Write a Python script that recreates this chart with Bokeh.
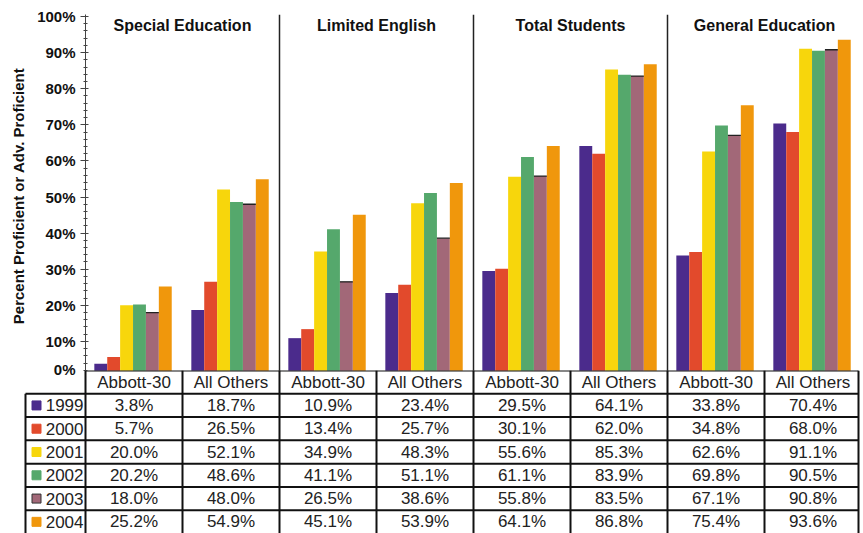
from bokeh.plotting import figure
from bokeh.models import Range1d, SingleIntervalTicker, PrintfTickFormatter, ColumnDataSource
from bokeh.layouts import column
from bokeh.core.properties import value
from bokeh.embed import file_html
from bokeh.resources import INLINE

# ---- data ----
years = ["1999", "2000", "2001", "2002", "2003", "2004"]
panels = ["Special Education", "Limited English", "Total Students", "General Education"]
groups = ["Abbott-30", "All Others"]

special_abbott = [3.8, 5.7, 20.0, 20.2, 18.0, 25.2]
special_others = [18.7, 26.5, 52.1, 48.6, 48.0, 54.9]
lep_abbott = [10.9, 13.4, 34.9, 41.1, 26.5, 45.1]
lep_others = [23.4, 25.7, 48.3, 51.1, 38.6, 53.9]
total_abbott = [29.5, 30.1, 55.6, 61.1, 55.8, 64.1]
total_others = [64.1, 62.0, 85.3, 83.9, 83.5, 86.8]
gen_abbott = [33.8, 34.8, 62.6, 69.8, 67.1, 75.4]
gen_others = [70.4, 68.0, 91.1, 90.5, 90.8, 93.6]

series = [special_abbott, special_others, lep_abbott, lep_others,
          total_abbott, total_others, gen_abbott, gen_others]

colors = ["#4b2b8c", "#e24a2c", "#f7d60c", "#55a86c", "#a26878", "#f0970c"]

FONT = value("Liberation Sans")
PX = 97.0          # pixels per x unit
BW = 0.133         # bar width (x units)
OVER = 7           # overlap between chart and table (tick label overhang)

# ---- chart ----
p = figure(width=863, height=370 + OVER,
           x_range=Range1d(0, 778 / PX), y_range=Range1d(0, 356 / 3.54),
           x_axis_location=None,
           output_backend="svg", toolbar_location=None,
           min_border_left=85, min_border_right=0,
           min_border_top=14, min_border_bottom=0,
           frame_align=False)
p.outline_line_color = None
p.grid.visible = False
p.background_fill_color = "white"
p.border_fill_color = "white"

ax = p.yaxis[0]
ax.ticker = SingleIntervalTicker(interval=10, num_minor_ticks=5)
ax.formatter = PrintfTickFormatter(format="%d%%")
ax.axis_label = "Percent Proficient or Adv. Proficient"
ax.axis_label_text_font = "Liberation Sans"
ax.axis_label_text_font_style = "bold"
ax.axis_label_text_font_size = "15px"
ax.axis_label_text_color = "#111111"
ax.axis_label_standoff = 7
ax.major_label_text_font = "Liberation Sans"
ax.major_label_text_font_style = "bold"
ax.major_label_text_font_size = "15px"
ax.major_label_text_color = "#111111"
ax.major_label_standoff = 5
ax.axis_line_color = "#444444"
ax.major_tick_line_color = "#444444"
ax.minor_tick_line_color = "#444444"
ax.major_tick_out = 5
ax.major_tick_in = 3
ax.minor_tick_out = 2
ax.minor_tick_in = 2

xs, tops, cols = [], [], []
seg_x0, seg_x1, seg_y = [], [], []
for si, vals in enumerate(series):
    pi, gi = divmod(si, 2)
    for yi, v in enumerate(vals):
        x = 2 * pi + gi + 0.49 + (yi - 2.5) * BW
        xs.append(x)
        tops.append(v)
        cols.append(colors[yi])
        if years[yi] == "2003":
            seg_x0.append(x - BW / 2)
            seg_x1.append(x + BW / 2)
            seg_y.append(v)

p.vbar(x="x", top="top", width=BW, fill_color="color", line_color=None,
       source=ColumnDataSource(dict(x=xs, top=tops, color=cols)))
p.segment(x0=seg_x0, y0=seg_y, x1=seg_x1, y1=seg_y, line_color="#222222", line_width=1.3)

# panel separators
top_y = 356 / 3.54
p.segment(x0=[2, 4, 6], y0=[0, 0, 0], x1=[2, 4, 6], y1=[top_y] * 3,
          line_color="#222222", line_width=1.5)

# panel titles
p.text(x=[2 * i + 1 for i in range(4)], y=[97.5] * 4, text=panels,
       text_align="center", text_baseline="middle", text_font=FONT,
       text_font_style="bold", text_font_size="16px", text_color="#111111")

# ---- data table ----
t = figure(width=863, height=163,
           x_range=Range1d(-85 / PX, 778 / PX), y_range=Range1d(0, 7),
           x_axis_location=None, y_axis_location=None,
           output_backend="svg", toolbar_location=None,
           min_border_left=0, min_border_right=0,
           min_border_top=0, min_border_bottom=0,
           frame_align=False, margin=(-OVER, 0, 0, 0))
t.outline_line_color = None
t.grid.visible = False
t.background_fill_alpha = 0
t.border_fill_alpha = 0

left_x = -60 / PX
right_x = (858 - 85) / PX
LC = "#111111"
LW = 2

# white cells behind the table grid (not behind the axis label area)
t.quad(left=[0], right=[right_x], bottom=[0], top=[7], fill_color="white", line_color=None)
t.quad(left=[left_x], right=[0], bottom=[0], top=[6], fill_color="white", line_color=None)

# horizontal lines
t.segment(x0=[0], y0=[7], x1=[right_x], y1=[7], line_color=LC, line_width=LW)
t.segment(x0=[left_x] * 6, y0=[6, 5, 4, 3, 2, 1], x1=[right_x] * 6, y1=[6, 5, 4, 3, 2, 1],
          line_color=LC, line_width=LW)
# vertical lines
t.segment(x0=[left_x], y0=[0], x1=[left_x], y1=[6], line_color=LC, line_width=LW)
vx = [0, 1, 2, 3, 4, 5, 6, 7, right_x]
t.segment(x0=vx, y0=[0] * len(vx), x1=vx, y1=[7] * len(vx), line_color=LC, line_width=LW)

# header
hx = [j + 0.5 for j in range(8)]
t.text(x=hx, y=[6.5] * 8, text=[groups[j % 2] for j in range(8)],
       text_align="center", text_baseline="middle", text_font=FONT,
       text_font_size="17px", text_color="#222222")

# values
cx, cy, ct = [], [], []
for si, vals in enumerate(series):
    for yi, v in enumerate(vals):
        cx.append(si + 0.5)
        cy.append(5.5 - yi)
        ct.append(f"{v:.1f}%")
t.text(x=cx, y=cy, text=ct, text_align="center", text_baseline="middle",
       text_font=FONT, text_font_size="17px", text_color="#222222")

# row labels
t.text(x=[-2 / PX] * 6, y=[5.5 - i for i in range(6)], text=years,
       text_align="right", text_baseline="middle", text_font=FONT,
       text_font_size="17px", text_color="#222222")
sq_line = ["#333333" if y == "2003" else c for y, c in zip(years, colors)]
t.scatter(x=[-49 / PX] * 6, y=[5.5 - i for i in range(6)], marker="square", size=9,
          fill_color=colors, line_color=sq_line, line_width=1)

layout = column(p, t, spacing=0)
open("out.html", "w").write(file_html(layout, INLINE))
